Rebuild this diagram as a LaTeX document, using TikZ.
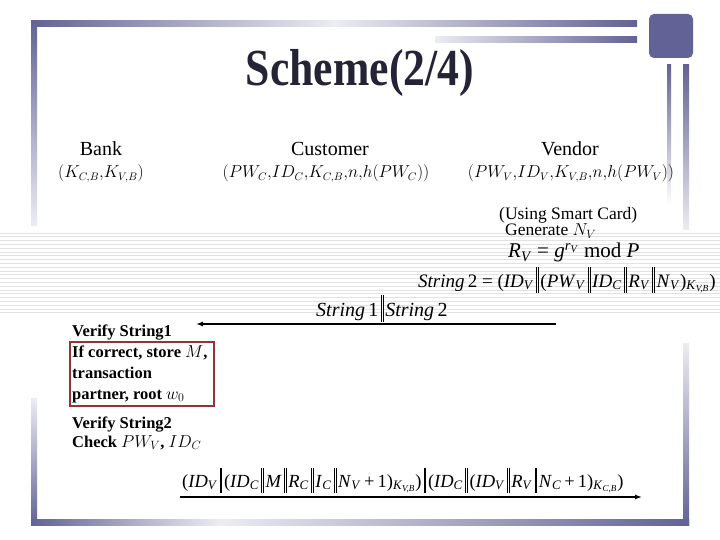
\documentclass[tikz,border=0pt]{standalone}
\usepackage{fontspec}
\setmainfont{Liberation Serif}
\usetikzlibrary{arrows.meta,fit}

\definecolor{framecol}{RGB}{98,98,150}
\definecolor{fadecol}{RGB}{236,236,242}
\definecolor{stripecol}{RGB}{226,226,226}
\definecolor{boxred}{RGB}{150,52,52}
\definecolor{titlecol}{RGB}{36,36,54}

\newcommand{\dbar}{\hspace{0.12em}\rule[-0.32em]{0.4pt}{1.35em}\hspace{1.3pt}\rule[-0.32em]{0.4pt}{1.35em}\hspace{0.12em}}
\newcommand{\iv}[2]{\textit{#1}\textsubscript{\textit{#2}}}

\tikzset{
  head/.style={font=\fontsize{20}{24}\selectfont, anchor=base, inner sep=0pt},
  keys/.style={font=\fontsize{16}{20}\selectfont, anchor=base, inner sep=0pt},
  note/.style={font=\fontsize{17.5}{21}\selectfont, anchor=base west, inner sep=0pt},
  eqn/.style={font=\fontsize{19}{23}\selectfont, anchor=base west, inner sep=0pt},
  step1/.style={font=\fontsize{16.5}{20}\bfseries\selectfont, anchor=base west, inner sep=0pt},
  redbox/.style={draw=boxred, line width=1.6pt, inner xsep=2pt, inner ysep=3pt},
  msgarrow/.style={line width=1.3pt, -{Latex[length=7pt,width=5pt]}},
  stripe/.style={draw=stripecol, line width=0.9pt}
}

\begin{document}
\begin{tikzpicture}[x=1pt,y=-1pt]
\useasboundingbox[fill=white] (0,0) rectangle (720,540);

% background stripes
\foreach \y in {233,236.8,...,313.5}
  \draw[stripe] (0,\y) -- (720,\y);

% slide frame
\shade[left color=framecol, right color=framecol, middle color=fadecol] (31,21) rectangle (637,27);
\shade[left color=fadecol, right color=framecol] (435,37) rectangle (637,43);
\shade[top color=framecol, bottom color=fadecol] (31,21) rectangle (37,226);
\shade[top color=fadecol, bottom color=framecol] (31,398) rectangle (37,525);
\shade[left color=framecol, right color=fadecol] (31,519) rectangle (220,525);
\shade[left color=fadecol, right color=framecol] (220,519) rectangle (689,525);
\shade[top color=framecol, bottom color=fadecol] (683,65) rectangle (689,230);
\shade[top color=fadecol, bottom color=framecol] (683,343) rectangle (689,525);
\shade[top color=framecol, bottom color=white] (667,65) rectangle (671,205);
\fill[framecol, rounded corners=5pt] (649,14) rectangle (693,58);

\node[anchor=base, inner sep=0pt, text=titlecol, font=\fontsize{52}{60}\bfseries\selectfont] (title) at (360,86)
  {\scalebox{0.84}[1]{Scheme(2/4)}};

% parties
\node[head] (bank) at (101,156) {Bank};
\node[head] (cust) at (330,156) {Customer};
\node[head] (vend) at (570,156) {Vendor};
\node[keys] (bankkey) at (101,178) {$(K_{C,B}{,}K_{V,B})$};
\node[keys] (custkey) at (326,178) {$(PW_C{,}ID_C{,}K_{C,B}{,}n{,}h(PW_C))$};
\node[keys] (vendkey) at (571,178) {$(PW_V{,}ID_V{,}K_{V,B}{,}n{,}h(PW_V))$};

% vendor side
\node[note] (card) at (499,219) {(Using Smart Card)};
\node[note] (gen) at (505,236) {Generate $N_V$};
\node[eqn, font=\fontsize{21}{24}\selectfont] (rv) at (508,258) {\iv{R}{V} = \textit{g}\textsuperscript{\iv{r}{V}} mod \textit{P}};
\node[eqn] (str2) at (418,287) {\textit{String}\,2 = (\iv{ID}{V}\dbar(\iv{PW}{V}\dbar\iv{ID}{C}\dbar\iv{R}{V}\dbar\iv{N}{V})\textsubscript{\iv{K}{V,B}})};
\node[eqn, font=\fontsize{20}{24}\selectfont] (msg1) at (316,316) {\textit{String}\,1\dbar\textit{String}\,2};

\coordinate (m1from) at (556,324);
\coordinate (m1to) at (196,324);
\draw[msgarrow] (m1from) -- (m1to);

% bank side
\node[step1] (ver1) at (72,336) {Verify String1};
\node[step1] (ok1) at (72,357) {If correct, store $M$,};
\node[step1] (ok2) at (72,378) {transaction};
\node[step1] (ok3) at (72,399) {partner, root $w_0$};
\coordinate (okedge) at (212,380);
\node[redbox, fit=(ok1)(ok2)(ok3)(okedge)] (store) {};
\node[step1] (ver2) at (72,428) {Verify String2};
\node[step1] (chk) at (72,447) {Check $PW_V$, $ID_C$};

\node[eqn, font=\fontsize{18.5}{22}\selectfont] (msg2) at (182,487) {(\iv{ID}{V}\dbar(\iv{ID}{C}\dbar\textit{M}\dbar\iv{R}{C}\dbar\iv{I}{C}\dbar\iv{N}{V}\,+\,1)\textsubscript{\iv{K}{V,B}})\dbar(\iv{ID}{C}\dbar(\iv{ID}{V}\dbar\iv{R}{V}\dbar\iv{N}{C}\,+\,1)\textsubscript{\iv{K}{C,B}})};

\coordinate (m2from) at (180,497);
\coordinate (m2to) at (642,497);
\draw[msgarrow] (m2from) -- (m2to);
\end{tikzpicture}
\end{document}
